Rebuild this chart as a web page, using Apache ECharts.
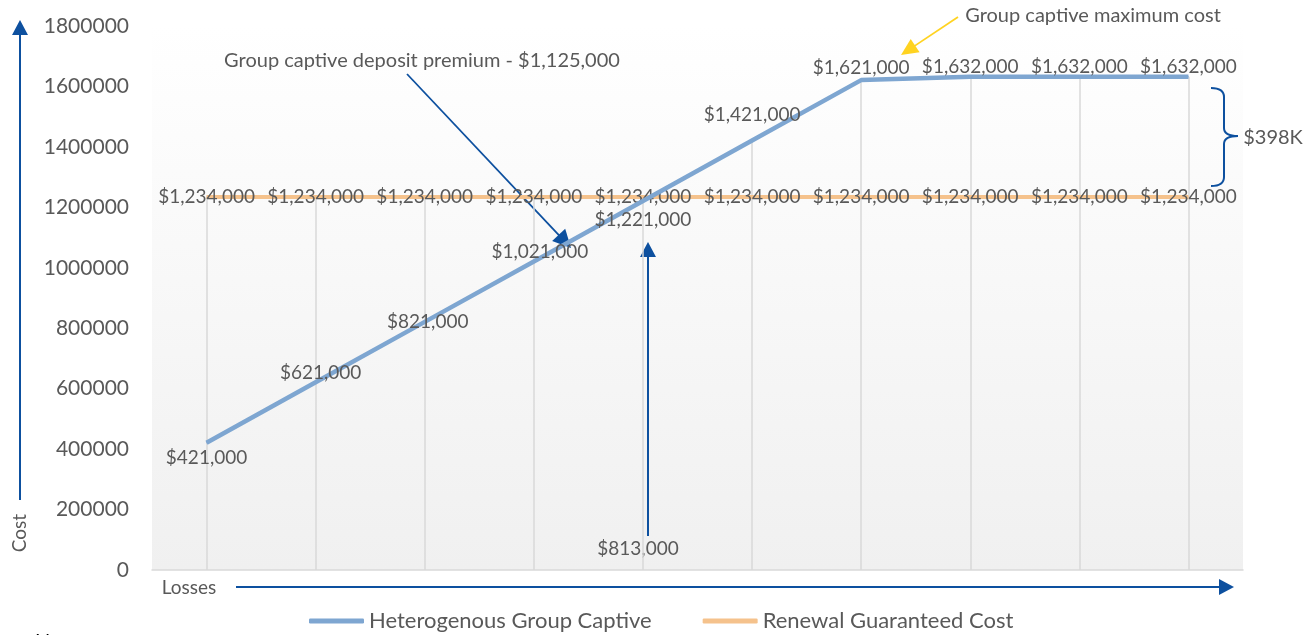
<!DOCTYPE html>
<html>
<head>
<meta charset="utf-8">
<script src="https://cdn.jsdelivr.net/npm/echarts@6/dist/echarts.min.js"></script>
<style>
html,body{margin:0;padding:0;background:#fff;}
#c{width:1312px;height:635px;}
</style>
</head>
<body>
<div id="c"></div>
<script>
// ---- data ----
const categories = ['1','2','3','4','5','6','7','8','9','10'];
const captiveValues = [421000, 621000, 821000, 1021000, 1221000, 1421000, 1621000, 1632000, 1632000, 1632000];
const guaranteedValues = [1234000, 1234000, 1234000, 1234000, 1234000, 1234000, 1234000, 1234000, 1234000, 1234000];
const yTicks = { min: 0, max: 1800000, interval: 200000 };
const seriesNames = ['Heterogenous Group Captive', 'Renewal Guaranteed Cost'];

// label offsets (style only)
const captiveLabelOffsets = [[0,15],[5,-9],[3,0],[6,-10],[0,19],[0,-26],[0,-12],[0,-10],[0,-10],[0,-10]];

const FONT = 'Lato';
const TXT = '#595959';
const ARROW = '#0d509f';

const fmt = v => '$' + v.toLocaleString('en-US');

function arrow(x1, y1, x2, y2, color, w, hl, hw) {
  const dx = x2 - x1, dy = y2 - y1, L = Math.hypot(dx, dy);
  const ux = dx / L, uy = dy / L, px = -uy, py = ux;
  const bx = x2 - ux * hl, by = y2 - uy * hl;
  return [
    { type: 'line', silent: true, shape: { x1, y1, x2: bx + ux * 1, y2: by + uy * 1 }, style: { stroke: color, lineWidth: w } },
    { type: 'polygon', silent: true, shape: { points: [[x2, y2], [bx + px * hw, by + py * hw], [bx - px * hw, by - py * hw]] }, style: { fill: color } }
  ];
}
function text(x, y, t, opts) {
  return { type: 'text', silent: true, x, y, style: Object.assign({ text: t, fill: TXT, font: '20px ' + FONT, textAlign: 'center', textVerticalAlign: 'middle' }, opts || {}) };
}
function curve(x1, y1, cx, cy, x2, y2) {
  return { type: 'bezierCurve', silent: true, shape: { x1, y1, cpx1: cx, cpy1: cy, x2, y2 }, style: { stroke: ARROW, lineWidth: 2, fill: null } };
}
function seg(x1, y1, x2, y2) {
  return { type: 'line', silent: true, shape: { x1, y1, x2, y2 }, style: { stroke: ARROW, lineWidth: 2 } };
}

const chart = echarts.init(document.getElementById('c'));

const graphics = [];
// Y axis arrow + label
graphics.push(...arrow(20, 500, 20, 20, ARROW, 2, 15, 8));
graphics.push({ type: 'text', silent: true, x: 20, y: 533, rotation: Math.PI / 2,
  style: { text: 'Cost', fill: TXT, font: '19px ' + FONT, textAlign: 'center', textVerticalAlign: 'middle' } });
// X axis arrow + label
graphics.push(...arrow(236, 587, 1234, 587, ARROW, 2, 15, 8));
graphics.push(text(189, 588, 'Losses', { font: '19px ' + FONT }));
// deposit premium annotation
graphics.push(text(422, 61, 'Group captive deposit premium - $1,125,000'));
graphics.push(...arrow(407, 74, 571, 248, ARROW, 1.8, 18, 9));
// vertical arrow
graphics.push(...arrow(648, 536, 648, 242, ARROW, 2, 15, 8));
graphics.push(text(638, 549, '$813,000', { font: '19px ' + FONT }));
// maximum cost annotation
graphics.push(text(1093, 16, 'Group captive maximum cost'));
graphics.push(...arrow(958, 17, 901, 55, '#ffd320', 1.8, 17, 8));
// brace
graphics.push(curve(1211, 88, 1224, 88, 1224, 97));
graphics.push(seg(1224, 97, 1224, 128));
graphics.push(curve(1224, 128, 1224, 136, 1238, 136));
graphics.push(curve(1238, 136, 1224, 136, 1224, 144));
graphics.push(seg(1224, 144, 1224, 177));
graphics.push(curve(1224, 177, 1224, 186, 1211, 186));
graphics.push(text(1273, 138, '$398K'));
// note (cut off)
graphics.push(text(35, 642, 'Note:', { textAlign: 'left', fill: '#000' }));

// drop lines: from the highest series value at each category down to the axis
const dropLines = categories.map((c, i) => [
  { xAxis: c, yAxis: 0 },
  { xAxis: c, yAxis: Math.max(captiveValues[i], guaranteedValues[i]) }
]);

chart.setOption({
  animation: false,
  textStyle: { fontFamily: FONT },
  grid: {
    left: 152, right: 69, top: 26, bottom: 65, show: true, borderWidth: 0,
    backgroundColor: new echarts.graphic.LinearGradient(0, 0, 0, 1, [
      { offset: 0, color: '#ffffff' }, { offset: 1, color: '#f0f0f0' }
    ])
  },
  legend: {
    data: seriesNames, top: 605, left: 304, itemWidth: 55, itemHeight: 5, itemGap: 51,
    icon: 'roundRect',
    textStyle: { fontSize: 22, color: TXT, fontFamily: FONT }
  },
  xAxis: {
    type: 'category', data: categories, boundaryGap: true,
    axisLine: { lineStyle: { color: '#d9d9d9', width: 1.5 } },
    axisTick: { show: false }, axisLabel: { show: false }, splitLine: { show: false }
  },
  yAxis: {
    type: 'value', min: yTicks.min, max: yTicks.max, interval: yTicks.interval,
    axisLine: { show: false }, axisTick: { show: false }, splitLine: { show: false },
    axisLabel: { color: TXT, fontSize: 21, margin: 23, fontFamily: FONT, formatter: v => String(v) }
  },
  series: [
    {
      name: 'droplines', type: 'line', data: [], z: 1, silent: true,
      markLine: {
        z: 1, silent: true, symbol: 'none', label: { show: false },
        lineStyle: { color: '#d9d9d9', width: 1.5, type: 'solid' },
        data: dropLines
      }
    },
    {
      name: seriesNames[1], type: 'line', data: guaranteedValues, z: 3,
      symbol: 'circle', symbolSize: 1, showSymbol: true,
      lineStyle: { color: '#f5c28c', width: 4 }, itemStyle: { color: '#f5c28c' },
      label: { show: true, position: 'inside', color: TXT, fontSize: 19, fontFamily: FONT, formatter: p => fmt(p.value) }
    },
    {
      name: seriesNames[0], type: 'line', data: captiveValues.map((v, i) => ({
        value: v, label: { offset: captiveLabelOffsets[i] }
      })), z: 4,
      symbol: 'circle', symbolSize: 1, showSymbol: true,
      lineStyle: { color: '#7ea6d1', width: 4.5 }, itemStyle: { color: '#7ea6d1' },
      label: { show: true, position: 'inside', color: TXT, fontSize: 19, fontFamily: FONT, formatter: p => fmt(p.value) }
    }
  ],
  graphic: graphics
});
</script>
</body>
</html>
